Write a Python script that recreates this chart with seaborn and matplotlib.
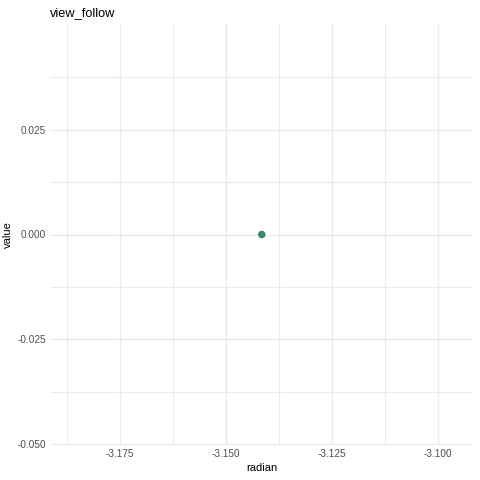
import numpy as np
import pandas as pd
import matplotlib
matplotlib.use("Agg")
import matplotlib.pyplot as plt
import seaborn as sns

# dati: un solo punto (radian, value)
radian = [-3.14159]
value = [0.0]
x_ticks = [-3.175, -3.150, -3.125, -3.100]
y_ticks = [-0.050, -0.025, 0.000, 0.025]

df = pd.DataFrame({"radian": radian, "value": value})

sns.set_theme(style="white")
plt.rcParams["font.family"] = ["Liberation Sans", "DejaVu Sans"]

fig = plt.figure(figsize=(4.8, 4.8), dpi=100)
ax = fig.add_axes([50 / 480, 35 / 480, 423 / 480, 421 / 480])

sns.scatterplot(data=df, x="radian", y="value", ax=ax, color="#44876F",
                s=30, edgecolor="none", zorder=3)

ax.set_xlim(-3.1915, -3.0918)
ax.set_ylim(-0.0502, 0.0502)
ax.set_xticks(x_ticks)
ax.set_xticklabels([f"{t:.3f}" for t in x_ticks])
ax.set_yticks(y_ticks)
ax.set_yticklabels([f"{t:.3f}" for t in y_ticks])
ax.set_xticks([-3.1875, -3.1625, -3.1375, -3.1125], minor=True)
ax.set_yticks([-0.0375, -0.0125, 0.0125, 0.0375], minor=True)

ax.grid(which="major", color="#EBEBEB", linewidth=1.0)
ax.grid(which="minor", color="#EBEBEB", linewidth=0.8)
ax.set_axisbelow(True)
for s in ax.spines.values():
    s.set_visible(False)
ax.tick_params(which="both", length=0, labelsize=7.2, colors="#4D4D4D", pad=3)

ax.set_xlabel("radian", fontsize=8, color="black", labelpad=3)
ax.set_ylabel("value", fontsize=8, color="black", labelpad=3)
ax.set_title("view_follow", loc="left", fontsize=9.2, color="black", pad=6)

fig.savefig("out.png", dpi=100, facecolor="white")
